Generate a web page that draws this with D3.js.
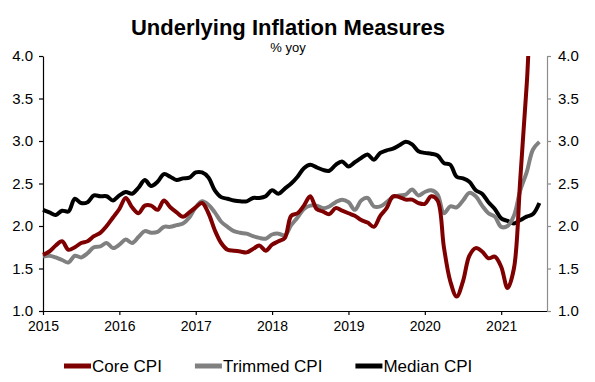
<!DOCTYPE html>
<html>
<head>
<meta charset="utf-8">
<script src="https://cdn.jsdelivr.net/npm/d3@7"></script>
<style>
  body { margin: 0; background: #fff; }
  svg { display: block; font-family: "Liberation Sans", Arial, sans-serif; }
</style>
</head>
<body>
<svg id="chart" width="595" height="382"></svg>
<script>
// monthly, Jan 2015 .. Jul 2021 (% yoy)
const startYear = 2015;
const coreCPI = [
  1.66, 1.70, 1.77, 1.82, 1.72, 1.75, 1.80, 1.82, 1.88, 1.92, 2.00, 2.10,
  2.20, 2.33, 2.22, 2.15, 2.24, 2.24, 2.19, 2.30, 2.22, 2.16, 2.11, 2.16,
  2.22, 2.27, 2.15, 1.95, 1.80, 1.72, 1.71, 1.70, 1.69, 1.73, 1.77, 1.71,
  1.78, 1.82, 1.86, 2.12, 2.15, 2.24, 2.35, 2.20, 2.17, 2.14, 2.21, 2.18,
  2.15, 2.12, 2.07, 2.04, 1.99, 2.12, 2.21, 2.35, 2.34, 2.31, 2.31, 2.27,
  2.26, 2.35, 2.30, 1.75, 1.35, 1.17, 1.35, 1.65, 1.74, 1.70, 1.62, 1.64,
  1.52, 1.27, 1.50, 2.55, 3.65, 4.60, 4.40
];
const trimmedCPI = [
  1.64, 1.65, 1.63, 1.60, 1.57, 1.65, 1.63, 1.68, 1.75, 1.76, 1.80, 1.74,
  1.78, 1.84, 1.80, 1.87, 1.94, 1.92, 1.93, 1.99, 1.99, 2.01, 2.03, 2.10,
  2.22, 2.29, 2.25, 2.16, 2.05, 1.99, 1.94, 1.92, 1.91, 1.88, 1.86, 1.85,
  1.90, 1.91, 1.89, 2.01, 2.10, 2.20, 2.24, 2.24, 2.21, 2.23, 2.28, 2.31,
  2.28, 2.19, 2.30, 2.33, 2.23, 2.23, 2.28, 2.34, 2.36, 2.37, 2.43, 2.36,
  2.40, 2.42, 2.37, 2.15, 2.23, 2.22, 2.30, 2.39, 2.35, 2.24, 2.15, 2.11,
  1.99, 2.00, 2.12, 2.42, 2.63, 2.90, 2.99
];
const medianCPI = [
  2.19, 2.16, 2.13, 2.18, 2.17, 2.32, 2.27, 2.28, 2.36, 2.35, 2.35, 2.30,
  2.36, 2.40, 2.38, 2.45, 2.54, 2.47, 2.52, 2.61, 2.58, 2.54, 2.56, 2.57,
  2.63, 2.63, 2.57, 2.42, 2.34, 2.32, 2.30, 2.29, 2.29, 2.33, 2.33, 2.35,
  2.42, 2.38, 2.44, 2.50, 2.58, 2.68, 2.72, 2.69, 2.66, 2.65, 2.72, 2.76,
  2.70, 2.75, 2.80, 2.84, 2.78, 2.86, 2.89, 2.91, 2.95, 2.99, 2.96, 2.88,
  2.86, 2.85, 2.83, 2.74, 2.72, 2.58, 2.56, 2.52, 2.42, 2.38, 2.28, 2.20,
  2.09, 2.06, 2.03, 2.07, 2.11, 2.14, 2.27
];
const yearTicks = [2015, 2016, 2017, 2018, 2019, 2020, 2021];
const valueTicks = [1.0, 1.5, 2.0, 2.5, 3.0, 3.5, 4.0];

const series = [
  {name: "Core CPI", values: coreCPI, color: "#7f0000"},
  {name: "Trimmed CPI", values: trimmedCPI, color: "#808080"},
  {name: "Median CPI", values: medianCPI, color: "#000000"}
];

const svg = d3.select("#chart");
const margin = {left: 43, right: 48, top: 56, bottom: 71};
const width = 595, height = 382;

const x = d3.scaleLinear().domain([2015, 2021.6]).range([margin.left, width - margin.right]);
const y = d3.scaleLinear().domain([1, 4]).range([height - margin.bottom, margin.top]);

svg.append("defs").append("clipPath").attr("id", "plotClip")
  .append("rect")
  .attr("x", 0).attr("y", y(4))
  .attr("width", width).attr("height", height - y(4));

// title
svg.append("text")
  .attr("x", 288).attr("y", 35)
  .attr("text-anchor", "middle")
  .style("font-size", "22px").style("font-weight", "bold")
  .text("Underlying Inflation Measures");
svg.append("text")
  .attr("x", 288).attr("y", 52)
  .attr("text-anchor", "middle")
  .style("font-size", "13px")
  .text("% yoy");

// axes
const xAxis = svg.append("g")
  .attr("transform", `translate(0,${y(1)})`)
  .call(d3.axisBottom(x).tickValues(yearTicks).tickFormat(d3.format("d")).tickSize(4).tickSizeOuter(0).tickPadding(6));
xAxis.selectAll("text").style("font-size", "14px").attr("fill", "#000");

const yLeft = svg.append("g")
  .attr("transform", `translate(${x(2015)},0)`)
  .call(d3.axisLeft(y).tickValues(valueTicks).tickFormat(d3.format(".1f")).tickSize(4).tickSizeOuter(0).tickPadding(6));
yLeft.selectAll("text").style("font-size", "15px").attr("fill", "#000");

const yRight = svg.append("g")
  .attr("transform", `translate(${x(2021.6)},0)`)
  .call(d3.axisRight(y).tickValues(valueTicks).tickFormat(d3.format(".1f")).tickSize(4).tickSizeOuter(0).tickPadding(7));
yRight.selectAll("text").style("font-size", "15px").attr("fill", "#000");
yRight.selectAll("path, line").attr("stroke", "#8c8c8c");

svg.selectAll(".domain, .tick line").attr("stroke-width", 1.2);

// lines
const line = d3.line()
  .x((d, i) => x(startYear + i / 12))
  .y(d => y(d))
  .curve(d3.curveCatmullRom.alpha(0.5));

svg.append("g").attr("clip-path", "url(#plotClip)")
  .selectAll("path.series")
  .data(series.slice().reverse())
  .join("path")
  .attr("class", "series")
  .attr("fill", "none")
  .attr("stroke", d => d.color)
  .attr("stroke-width", 4)
  .attr("stroke-linejoin", "round")
  .attr("d", d => line(d.values));

// legend
const legend = svg.append("g").attr("transform", "translate(0,366)");
let lx = 64;
series.forEach(s => {
  legend.append("line")
    .attr("x1", lx).attr("x2", lx + 27)
    .attr("stroke", s.color).attr("stroke-width", 5);
  const t = legend.append("text")
    .attr("x", lx + 28).attr("y", 6)
    .style("font-size", "17px")
    .text(s.name);
  lx += 28 + t.node().getComputedTextLength() + 33;
});
</script>
</body>
</html>
